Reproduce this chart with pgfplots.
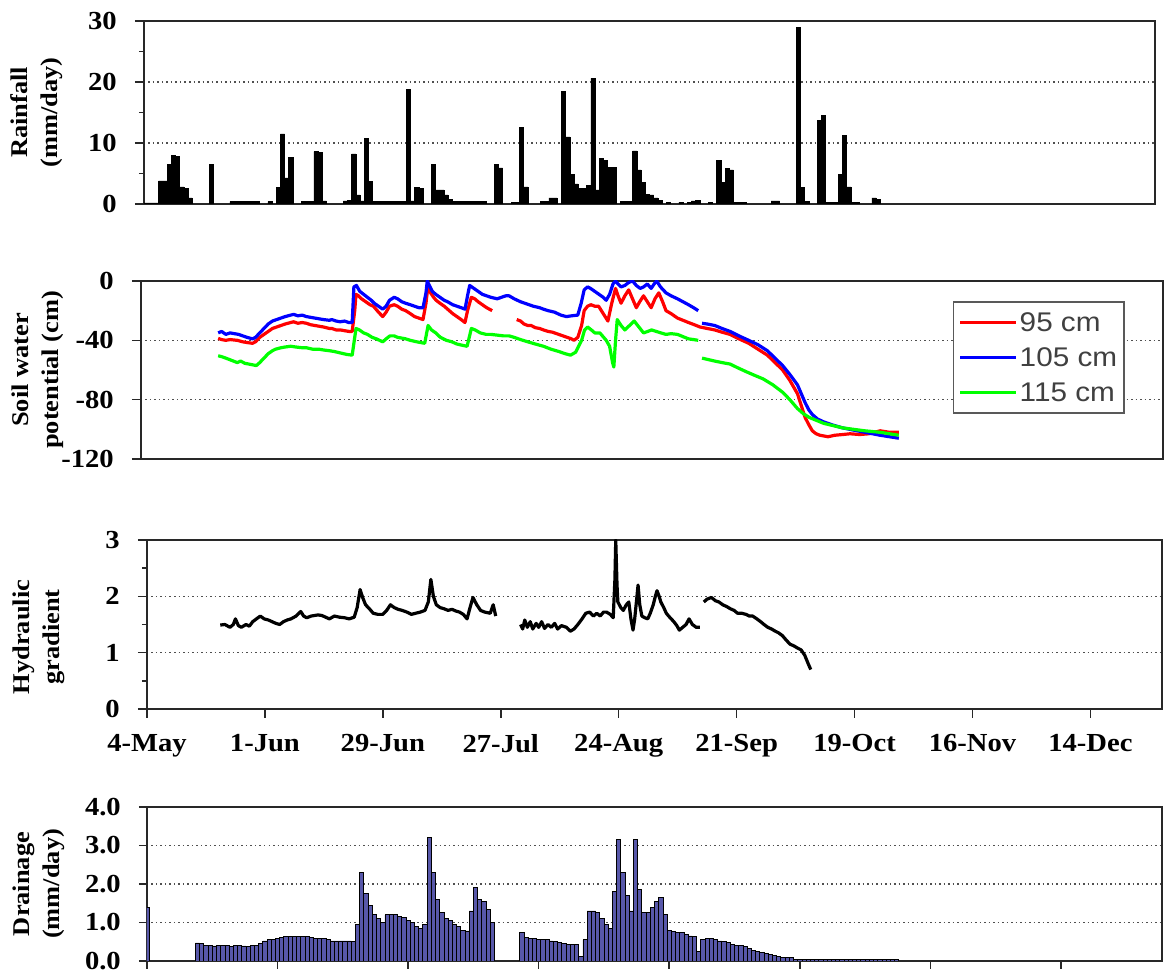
\documentclass[border=0pt]{standalone}
\usepackage{fontspec}
\setmainfont{Liberation Serif}[FakeStretch=1.1]
\setsansfont{Liberation Sans}[FakeStretch=1.1]
\usepackage{pgfplots}
\pgfplotsset{compat=1.18}
\definecolor{drain}{RGB}{88,88,170}
\definecolor{gridc}{RGB}{80,80,80}
\definecolor{frame}{RGB}{40,40,40}
\newcommand\tickfont{\fontsize{26}{26}\selectfont\bfseries}
\newcommand\labfont{\fontsize{24}{30}\selectfont\bfseries}
\pgfplotsset{
  panel/.style={
    scale only axis,
    anchor=south west,
    xmin=0, xmax=241,
    axis line style={frame, line width=2pt},
    every tick/.style={frame, line width=1.5pt},
    tick align=outside,
    major tick length=9pt,
    minor tick length=5pt,
    xtick pos=bottom, ytick pos=left,
    ymajorgrids,
    major grid style={gridc, dash pattern=on 1.5pt off 3pt, line width=1.2pt},
    tick label style={font=\tickfont},
    yticklabel style={anchor=east, inner sep=0pt, xshift=-18pt},
    xtick=\empty,
    ylabel style={anchor=center, align=center, font=\labfont},
  }
}
\begin{document}
\begin{tikzpicture}
\path[use as bounding box] (0pt,0pt) rectangle (1168pt,974pt);

% ---------------- Rainfall ----------------
\begin{axis}[panel, at={(144pt,770pt)}, width=1011pt, height=183pt,
  ymin=0, ymax=30, ytick={0,10,20,30}, yticklabels={0,10,20,30},
  minor ytick={5,15,25},
  ylabel={Rainfall\\(mm/day)},
  ylabel style={at={(axis description cs:-0.106,0.5)}}]
\addplot[ybar, bar width=1, bar shift=0, fill=black, draw=black, line width=0.5pt] coordinates {
(0,0.2)(1,0.2)(2,0.2)(3,0.2)(4,3.8)(5,3.8)(6,6.5)(7,8.0)(8,7.8)(9,2.8)(10,2.6)(11,1.0)
(16,6.5)
(21,0.4)(22,0.4)(23,0.4)(24,0.4)(25,0.4)(26,0.4)(27,0.4)(30,0.4)
(32,2.7)(33,11.5)(34,4.3)(35,7.6)
(38,0.4)(39,0.4)(40,0.4)(41,8.6)(42,8.5)(43,0.5)
(48,0.5)(49,0.6)(50,8.2)(51,1.5)(52,0.5)(53,10.8)(54,3.7)
(55,0.4)(56,0.4)(57,0.4)(58,0.4)(59,0.4)(60,0.4)(61,0.4)(62,0.4)
(63,18.8)(64,0.5)(65,2.7)(66,2.5)
(69,6.5)(70,2.3)(71,2.3)(72,1.5)(73,0.8)(74,0.4)(75,0.4)(76,0.4)(77,0.4)(78,0.4)(79,0.4)(80,0.4)(81,0.4)
(84,6.5)(85,5.9)
(88,0.3)(89,0.3)(90,12.5)(91,2.8)
(95,0.4)(96,0.4)(97,1.0)(98,1.0)
(100,18.5)(101,11.0)(102,4.8)(103,3.3)(104,2.5)(105,2.5)(106,3.0)(107,20.6)(108,2.3)(109,7.5)(110,7.2)(111,6.0)(112,6.0)
(114,0.4)(115,0.4)(116,0.4)(117,8.7)(118,5.6)(119,3.6)(120,1.6)(121,1.5)(122,1.0)(123,0.6)
(125,0.3)(128,0.3)(130,0.3)(131,0.5)(132,0.6)(135,0.3)
(137,7.2)(138,3.5)(139,5.8)(140,5.6)(141,0.3)(142,0.3)(143,0.3)
(150,0.5)(151,0.5)
(156,29.0)(157,2.7)(158,0.4)
(161,13.7)(162,14.5)(163,0.3)(164,0.3)(165,0.3)
(166,4.8)(167,11.3)(168,2.8)(169,0.3)(170,0.3)
(174,1.0)(175,0.8)
};
\end{axis}

% ---------------- Soil water potential ----------------
\begin{axis}[panel, at={(141pt,515pt)}, width=1022pt, height=178pt,
  ymin=-120, ymax=0, ytick={-120,-80,-40,0}, yticklabels={-120,-80,-40,0},
  ylabel={Soil water\\potential (cm)},
  ylabel style={at={(axis description cs:-0.101,0.5)}},
  unbounded coords=jump,
  legend style={at={(0.7945,0.885)}, anchor=north west, draw=black!65, line width=1.5pt,
    fill=white, font=\sffamily\fontsize{27}{27}\selectfont, text=black!75,
    inner xsep=5pt, inner ysep=8pt, row sep=11pt},
  legend cell align=left,
  legend image code/.code={\draw[#1, line width=3pt] (0pt,0pt) -- (56pt,0pt);}]
\addplot[red, line width=3.2pt, line join=round] coordinates {
(18.2,-38.7)(19,-39.5)(20,-40)(21,-39.5)(22.7,-40)(24,-41)(25,-41.5)(26.3,-42)(27,-41)(28,-38)(29,-36)(30,-34)(31,-32)(32,-31)(33,-30)(34,-29)(35.3,-28)(36,-27.5)(37,-28.5)(38,-28)(39,-28.5)(40,-29.5)(41,-30)(42,-30.5)(43,-31)(44.4,-32)(45,-32)(46,-33)(47,-33)(48,-33.5)(49,-34)(49.8,-34)(50.4,-20)(50.7,-9)(51.3,-10)(52,-12)(53,-14)(54,-16)(54.8,-17)(56,-21)(57,-24)(57.8,-21)(58.6,-17)(59.7,-16)(60.5,-17)(61.5,-19)(62.4,-20)(63.5,-22)(64.5,-24)(65.5,-25)(66.5,-26)(67.2,-15)(67.6,-5)(68.3,-8)(69,-11)(69.6,-13)(70.5,-15)(71.5,-17)(72.3,-19)(73.5,-22)(74.5,-24)(75.5,-26)(76.4,-28)(77,-20)(77.9,-11)(78.7,-12)(79.5,-14)(80.5,-16)(81.5,-18)(82.8,-20)
(85,nan)
(88.6,-26)(89.5,-27)(90.3,-29)(91.2,-30)(92,-30)(93,-31.5)(94,-32)(94.9,-33)(96,-34)(97,-34.5)(98.5,-36)(99.5,-37)(100.5,-38)(101.5,-39)(102.1,-40)(103,-38)(103.9,-30)(104.5,-20)(105.3,-17)(106.1,-16)(107,-17)(107.9,-17)(109,-22)(110.1,-27)(111,-15)(111.9,-5)(112.5,-10)(113.2,-15)(114.1,-10)(115,-6)(115.9,-12)(116.8,-18)(117.6,-14)(118.5,-10)(119.4,-14)(120.3,-18)(121.2,-12)(122.1,-8)(123,-14)(123.8,-20)(125,-22)(126.5,-25)(127.8,-26.5)(129.1,-28)(130.5,-29.5)(131.8,-31)(133.5,-32)(135.3,-33)(137,-34.5)(138.9,-36)(141,-39)(143.3,-42)(145.5,-46)(147.7,-50)(149.5,-55)(151.3,-60)(153,-67)(154.8,-76)(155.7,-84)(156.6,-92)(157.5,-97)(158.3,-101)(159.2,-103)(160.1,-104)(162,-105)(163.6,-104)(165.5,-103.5)(167.2,-103)(169.5,-103.5)(171.6,-103)(173,-102)(174.3,-101)(176.5,-102)(178.7,-102)
};
\addlegendentry{95 cm}
\addplot[blue, line width=3.2pt, line join=round] coordinates {
(18.2,-35)(19,-34)(20,-36)(21,-35)(22,-35.5)(23,-36)(24,-37)(25,-38)(26.3,-39)(27,-38)(28,-35)(29,-32)(30,-29)(31,-27)(32,-26)(33,-25)(34,-24)(35.3,-23)(36,-22.5)(37,-23.5)(38,-23)(39,-24)(40,-24.5)(41,-25)(42,-25.5)(43,-26)(44.4,-26.5)(45,-26)(46,-27)(47,-27.5)(48,-27)(49,-28)(49.8,-28)(50.2,-4)(50.8,-3)(51.6,-7)(52.5,-9)(53.4,-11)(54.3,-13)(55,-15)(56,-17)(57,-19)(57.8,-17)(58.6,-13)(59.7,-11)(60.5,-12)(61.5,-14)(62.4,-15)(63.5,-16)(64.5,-17)(65.5,-18)(66.5,-18)(67.2,-8)(67.5,0)(68,-3)(68.7,-7)(69.5,-9)(70.5,-11)(71.5,-13)(72.3,-14)(73.5,-16)(74.5,-17)(75.5,-18)(76.4,-19)(77,-10)(77.5,-3)(78.5,-5)(79.5,-7)(80.5,-9)(81.5,-10)(82.5,-11)(84,-12)(85,-11)(86,-10)(86.8,-10)(88,-12)(89.5,-14)(91,-15.5)(92.5,-17)(94,-18)(94.9,-19)(96,-20)(97.5,-21)(99,-23)(100.3,-24)(101.5,-23.5)(103,-23)(103.8,-15)(104.5,-6)(105.3,-4)(106,-5)(107,-7)(108,-9)(109,-11)(109.7,-13)(110.5,-9)(111.3,-2)(111.9,0)(112.5,-2)(113.2,-4)(114.1,-3)(115,-1)(115.9,0)(116.8,-3)(117.7,-5)(118.5,-4)(119.4,-2)(120.3,-5)(121,-2)(121.6,0)(122.5,-4)(123.8,-8)(125,-10)(126.5,-12)(127.8,-14)(129.1,-16)(130.3,-18)(131.4,-20)
(131.9,nan)
(132.3,-28.5)(133.5,-29)(135.3,-30)(137,-32)(138.9,-34)(141,-37)(143.3,-40)(145.5,-43)(147.7,-47)(149.5,-52)(151.3,-57)(153,-63)(154.8,-70)(155.7,-76)(156.6,-82)(157.5,-87)(158.3,-90)(159.5,-93)(161,-95)(163,-97)(165.4,-99)(168,-100.5)(170.7,-102)(172.5,-103)(174.3,-104)(176.5,-105)(178.7,-106)
};
\addlegendentry{105 cm}
\addplot[green, line width=3.2pt, line join=round] coordinates {
(18.2,-50.4)(19,-51)(20,-52)(20.9,-53)(21.8,-54)(22.7,-55)(23.5,-54)(24.5,-55.5)(25.4,-56)(26.3,-56.5)(27.2,-57)(28,-55)(29,-52)(30,-49)(31,-47)(31.7,-46)(33,-45)(34,-44.5)(35.3,-44)(36.5,-44.5)(38,-45)(39,-45)(40.5,-46)(42,-46)(43,-46.5)(44.4,-47)(45.5,-47.5)(47,-48.5)(48.5,-49.5)(49.8,-50)(50.3,-40)(50.7,-32)(51.5,-33)(52.5,-35)(53.4,-36)(54.5,-38)(55.5,-39)(57,-41)(57.8,-39)(58.7,-37)(59.7,-37)(60.5,-38)(61.5,-38.5)(62.4,-39)(63.5,-40)(65,-41)(66.9,-42)(67.3,-36)(67.7,-30)(68.5,-33)(69.5,-35)(70.6,-38)(72,-40)(73.3,-41)(74.5,-42.5)(76,-43.5)(76.9,-44)(77.4,-38)(77.9,-32)(78.8,-33)(80,-35)(81.4,-36)(82.5,-36)(84,-36.5)(85.5,-37)(86.8,-37)(88,-38)(89.5,-39.5)(91.2,-41)(93,-42.5)(94.9,-44)(96.7,-46)(98.5,-47.5)(100,-49)(101.3,-50)(102.5,-48)(103.9,-40)(104.6,-33)(105.3,-31)(106.2,-33)(107,-35)(108.2,-35)(109.7,-40)(110.5,-44)(111.2,-55)(111.5,-58)(111.9,-40)(112.3,-26)(113.2,-30)(114.1,-33)(115.2,-30)(116.3,-27)(117.4,-31)(118.5,-35)(119.5,-34)(120.4,-33)(121.5,-34)(122.6,-35)(123.8,-36)(125,-35.5)(126.5,-36)(127.8,-37.5)(129.1,-39)(130.3,-39.5)(131.4,-40)
(131.9,nan)
(132.3,-52)(133.8,-53)(135.3,-54)(137,-55)(138.9,-56)(140.7,-58.5)(142.6,-61)(144.6,-63.5)(146.7,-66)(149,-70)(151.3,-75)(153,-80)(154.8,-86)(156.2,-89.5)(157.6,-92)(159.3,-94)(161,-96)(163.2,-97.5)(165.4,-99)(168,-100)(170.7,-101)(172.5,-101.5)(174.3,-102)(176.5,-103)(178.7,-104)
};
\addlegendentry{115 cm}
\end{axis}

% ---------------- Hydraulic gradient ----------------
\begin{axis}[panel, at={(147pt,265pt)}, width=1015pt, height=169pt,
  ymin=0, ymax=3, ytick={0,1,2,3}, yticklabels={0,1,2,3},
  minor ytick={0.5,1.5,2.5},
  xtick={0,28,56,84,112,140,168,196,224},
  xticklabels={4-May,1-Jun,29-Jun,27-Jul,24-Aug,21-Sep,19-Oct,16-Nov,14-Dec},
  xticklabel style={anchor=north, inner sep=0pt, yshift=-16pt},
  ylabel={Hydraulic\\gradient},
  ylabel style={at={(axis description cs:-0.107,0.426)}},
  unbounded coords=jump]
\addplot[black, line width=3.2pt, line join=round] coordinates {
(17.4,1.49)(18.5,1.5)(19.7,1.45)(20.5,1.5)(21,1.6)(21.7,1.48)(22.4,1.45)(23.5,1.5)(24.3,1.47)(25.1,1.55)(26,1.6)(26.9,1.65)(27.8,1.6)(28.8,1.58)(29.7,1.55)(30.6,1.52)(31.5,1.5)(32.4,1.55)(33.3,1.58)(34.2,1.6)(35.4,1.65)(36.5,1.73)(37.2,1.65)(37.9,1.62)(39,1.65)(40.6,1.67)(41.5,1.66)(42.4,1.63)(43.3,1.6)(44.5,1.65)(45.7,1.63)(46.9,1.62)(48,1.6)(49.2,1.63)(49.9,1.8)(50.6,2.12)(51.2,1.98)(51.9,1.85)(52.8,1.78)(53.7,1.7)(54.8,1.68)(56,1.68)(56.9,1.75)(57.8,1.85)(58.7,1.8)(59.6,1.77)(60.6,1.75)(61.7,1.72)(62.8,1.68)(63.8,1.7)(64.9,1.72)(66,1.75)(66.8,1.9)(67.4,2.3)(68,2.0)(68.7,1.85)(69.6,1.8)(70.5,1.78)(71.5,1.75)(72.4,1.77)(73.3,1.74)(74.2,1.72)(75.1,1.68)(76,1.6)(76.7,1.8)(77.4,1.98)(78.3,1.85)(79.2,1.75)(80.2,1.72)(81.5,1.7)(82.2,1.85)(82.8,1.65)
(85,nan)
(88.7,1.5)(89.2,1.42)(89.7,1.58)(90.3,1.45)(91,1.55)(91.6,1.42)(92.4,1.52)(93,1.45)(93.7,1.55)(94.4,1.43)(95.2,1.5)(96,1.45)(96.8,1.52)(97.5,1.42)(98.4,1.48)(99.6,1.45)(100.5,1.38)(101.4,1.42)(102.3,1.5)(103.3,1.6)(104.2,1.7)(105.1,1.72)(106,1.65)(106.8,1.7)(107.6,1.65)(108.4,1.72)(109.1,1.72)(110,1.68)(110.7,1.62)(111.1,2.3)(111.3,3.0)(111.6,2.2)(111.8,1.9)(112.5,1.8)(113.1,1.75)(113.8,1.85)(114.4,1.9)(114.9,1.6)(115.4,1.4)(115.8,1.6)(116.2,1.9)(116.6,2.2)(117,1.85)(117.5,1.65)(118.2,1.62)(118.9,1.6)(119.5,1.7)(120.2,1.85)(120.7,2.0)(121.1,2.1)(121.6,2.0)(122,1.9)(122.7,1.8)(123.3,1.7)(124.2,1.62)(125.1,1.55)(125.8,1.48)(126.4,1.4)(127.2,1.45)(128,1.5)(128.7,1.6)(129.5,1.5)(130.4,1.45)(131.3,1.45)
(131.8,nan)
(132.2,1.9)(133,1.95)(134,1.98)(135,1.92)(135.8,1.9)(136.7,1.85)(137.6,1.82)(138.5,1.78)(139.4,1.75)(140.2,1.7)(141.2,1.7)(142.2,1.68)(143,1.65)(143.8,1.65)(144.8,1.6)(145.7,1.55)(146.5,1.5)(147.4,1.45)(148.3,1.42)(149.2,1.38)(150,1.35)(150.9,1.3)(151.8,1.22)(152.7,1.15)(153.6,1.12)(154.5,1.08)(155.3,1.05)(156.2,0.95)(156.9,0.82)(157.6,0.7)
};
\end{axis}

% ---------------- Drainage ----------------
\begin{axis}[panel, at={(147pt,13pt)}, width=1015pt, height=154pt,
  ymin=0, ymax=4, ytick={0,1,2,3,4}, yticklabels={0.0,1.0,2.0,3.0,4.0},
  xtick={0,31,62,93,124,155,186,217}, xticklabels={,,,,,,,},
  major tick length=8pt,
  ylabel={Drainage\\(mm/day)},
  ylabel style={at={(axis description cs:-0.107,0.5)}}]
\addplot[ybar, bar width=1, bar shift=0, fill=drain, draw=black, line width=0.8pt] coordinates {
(0,1.4)
(12,0.47)(13,0.45)(14,0.4)(15,0.4)(16,0.39)(17,0.4)(18,0.4)(19,0.4)(20,0.38)(21,0.4)(22,0.4)(23,0.39)(24,0.38)(25,0.4)(26,0.4)
(27,0.45)(28,0.52)(29,0.55)(30,0.57)(31,0.58)(32,0.6)(33,0.63)(34,0.63)(35,0.63)(36,0.63)(37,0.63)(38,0.63)(39,0.62)
(40,0.58)(41,0.58)(42,0.58)(43,0.57)(44,0.52)(45,0.52)(46,0.52)(47,0.52)(48,0.52)(49,0.5)
(50,0.95)(51,2.3)(52,1.75)(53,1.45)(54,1.2)(55,1.1)(56,1.0)(57,1.2)(58,1.2)(59,1.2)(60,1.15)(61,1.12)(62,1.05)(63,1.0)(64,0.9)(65,0.85)(66,0.95)
(67,3.2)(68,2.3)(69,1.6)(70,1.25)(71,1.1)(72,1.05)(73,0.95)(74,0.9)(75,0.8)(76,0.78)(77,1.3)(78,1.9)(79,1.6)(80,1.55)(81,1.35)(82,1.0)
(89,0.75)(90,0.6)(91,0.58)(92,0.58)(93,0.55)(94,0.55)(95,0.55)(96,0.52)(97,0.5)(98,0.48)(99,0.45)(100,0.42)(101,0.42)(102,0.42)(103,0.12)
(104,0.55)(105,1.3)(106,1.3)(107,1.25)(108,1.1)(109,0.95)(110,0.85)(111,1.8)(112,3.15)(113,2.3)(114,1.7)(115,1.3)(116,3.15)(117,1.85)
(118,1.25)(119,1.25)(120,1.4)(121,1.55)(122,1.65)(123,1.2)(124,0.8)(125,0.77)(126,0.75)(127,0.75)(128,0.68)(129,0.65)(130,0.63)(131,0.25)
(132,0.55)(133,0.58)(134,0.58)(135,0.57)(136,0.52)(137,0.5)(138,0.48)(139,0.42)(140,0.4)(141,0.4)(142,0.37)(143,0.32)(144,0.28)(145,0.24)
(146,0.22)(147,0.2)(148,0.16)(149,0.15)(150,0.12)(151,0.1)(152,0.1)(153,0.1)
(154,0.03)(155,0.03)(156,0.03)(157,0.03)(158,0.03)(159,0.03)(160,0.03)(161,0.03)(162,0.03)(163,0.03)(164,0.03)(165,0.03)(166,0.03)
(167,0.03)(168,0.03)(169,0.03)(170,0.03)(171,0.03)(172,0.03)(173,0.03)(174,0.03)(175,0.03)(176,0.03)(177,0.03)(178,0.03)
};
\end{axis}
\end{tikzpicture}
\end{document}
